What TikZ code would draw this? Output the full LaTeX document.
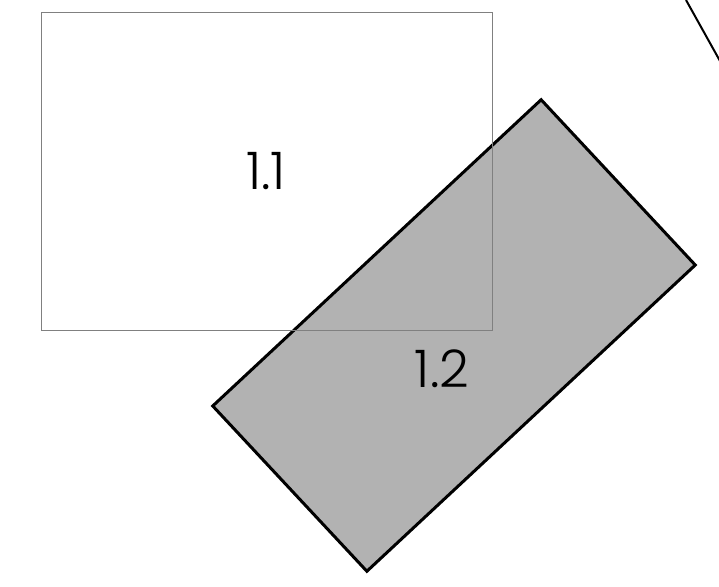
\documentclass[tikz,border=0pt]{standalone}
\usepackage{fontspec}
\setmainfont{Poppins}[UprightFont=* Light]
\begin{document}
\begin{tikzpicture}[x=1bp,y=-1bp,
  thinbox/.style={draw=black!50, line width=1bp},
  grayblock/.style={draw=black, fill=black!30, line width=3bp, line join=miter},
  lbl/.style={font=\fontsize{52}{52}\selectfont, inner sep=0pt}]
\useasboundingbox (0,0) rectangle (719,587);
\clip (0,0) rectangle (719,587);
\node[grayblock, rotate=43, minimum width=449bp, minimum height=226bp, inner sep=0pt] (b12) at (454,335.5) {};
\node[thinbox, minimum width=450bp, minimum height=317bp, inner sep=0pt] (b11) at (267,171.5) {};
\node[lbl] (t11) at (266,171) {1.1};
\node[lbl] (t12) at (442,369) {1.2};
\coordinate (l1) at (686,0);
\coordinate (l2) at (725,70);
\draw[line width=2bp] (l1) -- (l2);
\end{tikzpicture}
\end{document}
